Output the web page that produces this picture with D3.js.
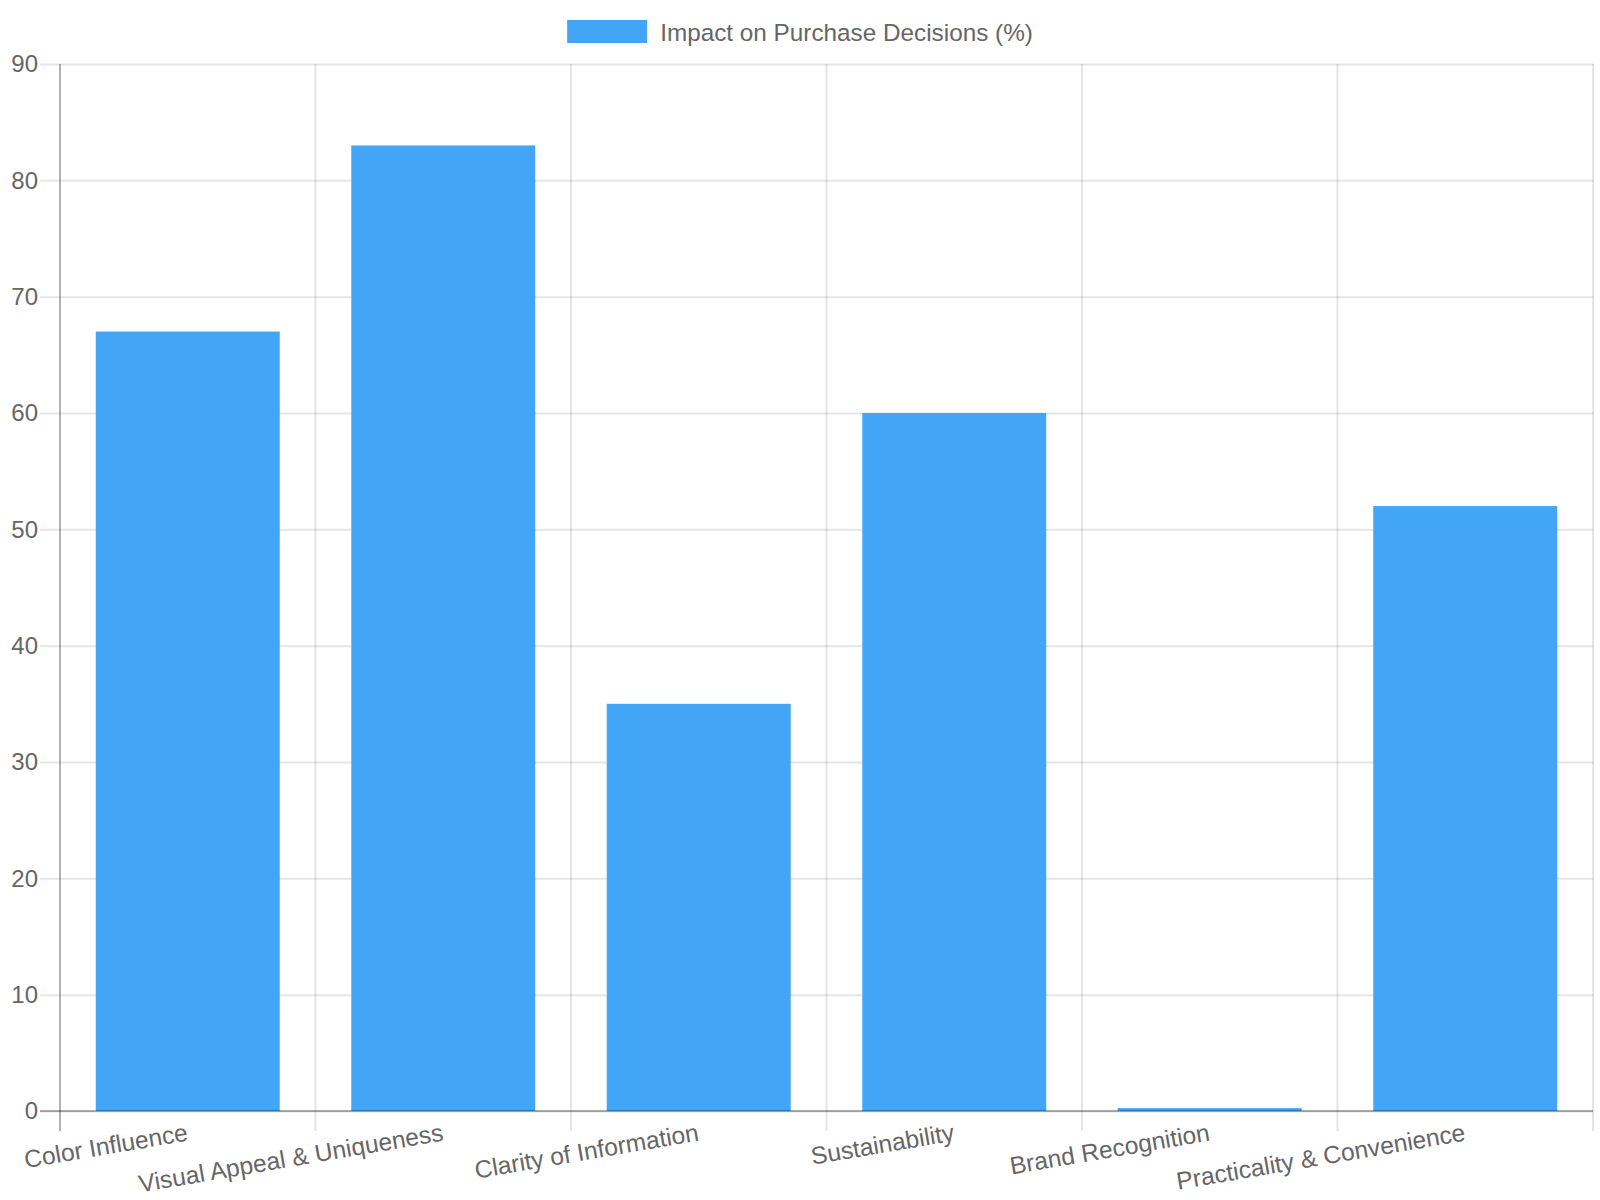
<!DOCTYPE html>
<html>
<head>
<meta charset="utf-8">
<script src="https://cdn.jsdelivr.net/npm/d3@7"></script>
<style>
  html, body { margin: 0; padding: 0; background: #fff; }
  svg { display: block; }
  text { font-family: "Liberation Sans", Arial, Helvetica, sans-serif; fill: #666; }
</style>
</head>
<body>
<svg id="chart" width="1600" height="1200"></svg>
<script>
const categories = ["Color Influence", "Visual Appeal & Uniqueness", "Clarity of Information", "Sustainability", "Brand Recognition", "Practicality & Convenience"];
const seriesName = "Impact on Purchase Decisions (%)";
const values = [67, 83, 35, 60, 0.25, 52];
const yTicks = [0, 10, 20, 30, 40, 50, 60, 70, 80, 90];

(function () {
const W = 1600, H = 1200;
const pLeft = 60, pRight = 1593, pTop = 64, pBottom = 1111;
const tickLen = 20;
const fontSize = 24;
const xFontSize = 24.6;
const legFontSize = 24.3;
const barColor = "#42a5f5";
const gridColor = "rgba(0,0,0,0.1)";
const axisColor = "rgba(0,0,0,0.3)";
const rot = -9.7;

const svg = d3.select("#chart");

const x = d3.scaleBand().domain(categories).range([pLeft, pRight]).paddingInner(0).paddingOuter(0);
const y = d3.scaleLinear().domain([0, 90]).range([pBottom, pTop]);

// horizontal gridlines + y axis
const yAxis = d3.axisLeft(y).tickValues(yTicks).tickSize(tickLen).tickPadding(2).tickFormat(d3.format("d"));
const yg = svg.append("g").attr("transform", `translate(${pLeft},0)`).call(yAxis);
yg.select(".domain").remove();
yg.selectAll(".tick line").attr("stroke", gridColor).attr("stroke-width", 2)
  .attr("x1", -tickLen).attr("x2", pRight - pLeft);
yg.selectAll(".tick text").attr("font-size", fontSize).attr("fill", "#666")
  .attr("font-family", "'Liberation Sans', Arial, sans-serif");

// vertical gridlines at category boundaries
const bounds = categories.map(c => x(c)).concat([x(categories[categories.length - 1]) + x.bandwidth()]);
svg.append("g").selectAll("line").data(bounds).join("line")
  .attr("x1", d => d).attr("x2", d => d)
  .attr("y1", pTop).attr("y2", pBottom + tickLen)
  .attr("stroke", (d, i) => i === 0 ? axisColor : gridColor).attr("stroke-width", 2);

// bars
svg.append("g").selectAll("rect").data(values).join("rect")
  .attr("x", (d, i) => x(categories[i]) + x.bandwidth() * 0.14)
  .attr("width", x.bandwidth() * 0.72)
  .attr("y", d => y(d))
  .attr("height", d => y(0) - y(d))
  .attr("fill", barColor);

// zero line
svg.append("line").attr("x1", pLeft - tickLen).attr("x2", pRight)
  .attr("y1", y(0)).attr("y2", y(0)).attr("stroke", axisColor).attr("stroke-width", 2);

// x labels
const xg = svg.append("g");
xg.selectAll("text").data(categories).join("text")
  .attr("transform", d => `translate(${x(d) + x.bandwidth() / 2},${pBottom + tickLen + 3}) rotate(${rot})`)
  .attr("text-anchor", "end")
  .attr("dominant-baseline", "middle")
  .attr("font-size", xFontSize)
  .text(d => d);

// legend
const legend = svg.append("g");
const legText = legend.append("text").attr("font-size", legFontSize).text(seriesName);
const tw = legText.node().getComputedTextLength();
const boxW = 80, boxH = 23, gap = 13;
const total = boxW + gap + tw;
const lx = W / 2 - total / 2;
legend.append("rect").attr("x", lx).attr("y", 20).attr("width", boxW).attr("height", boxH).attr("fill", barColor);
legText.attr("x", lx + boxW + gap).attr("y", 40.5);
})();
</script>
</body>
</html>
